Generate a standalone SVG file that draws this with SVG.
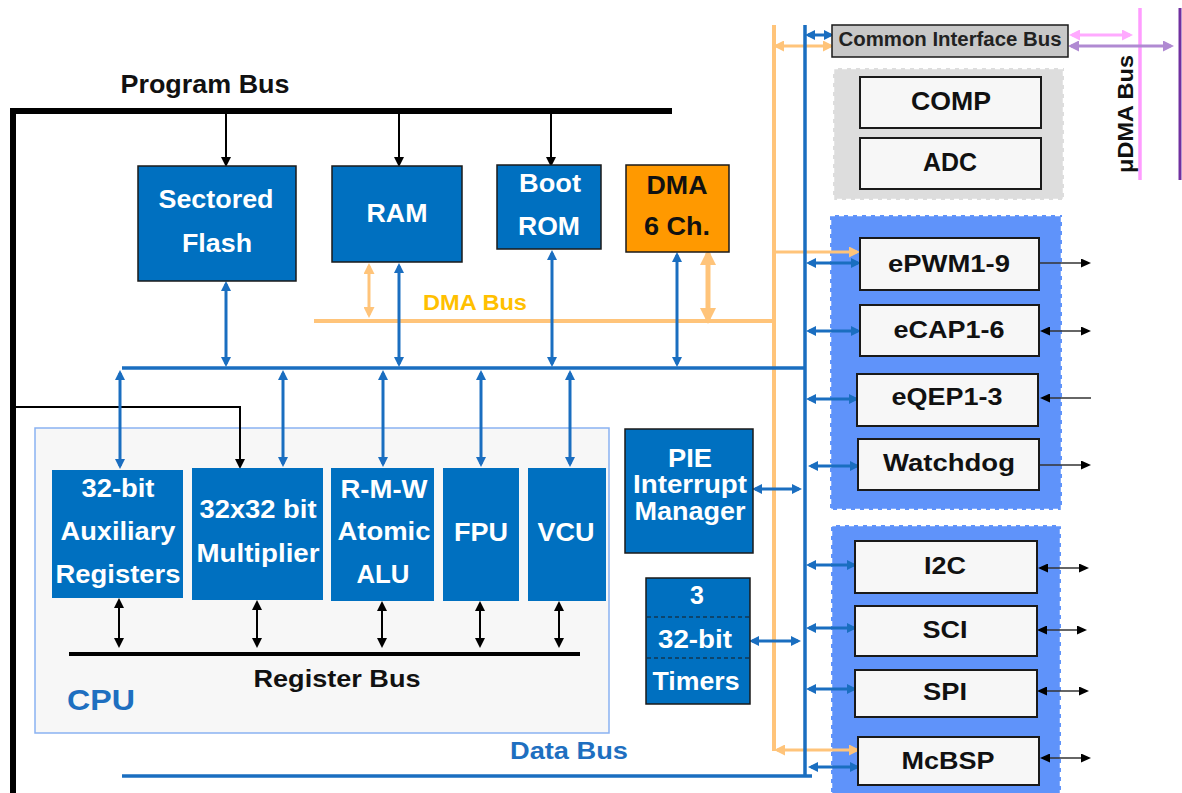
<svg xmlns="http://www.w3.org/2000/svg" width="1182" height="793" viewBox="0 0 1182 793">
  <defs>
    <style>
      text { font-family: "Liberation Sans", Arial, sans-serif; font-weight: bold; }
      .wt { fill: #ffffff; text-anchor: middle; font-size: 25px; }
      .bt { fill: #111111; text-anchor: middle; font-size: 24px; }
      .blk { fill: #0070C0; stroke: #1a1a1a; stroke-width: 1.5; }
      .per { fill: #F7F7F7; stroke: #1a1a1a; stroke-width: 2; }
      .panel { fill: #5F93FA; stroke: #ffffff; stroke-width: 2.5; stroke-dasharray: 5 4; }
      .bbus { stroke: #1A6EC0; stroke-width: 3.5; fill: none; }
      .blink { stroke: #1A6EC0; stroke-width: 3; fill: none; marker-start: url(#hb); marker-end: url(#hb); }
      .obus { stroke: #FFC47A; stroke-width: 4; fill: none; }
      .olink { stroke: #FFC47A; stroke-width: 3; fill: none; }
      .klink { stroke: #000000; stroke-width: 2; fill: none; }
      .kio { stroke: #333333; stroke-width: 1.5; fill: none; }
    </style>
    <marker id="hb" markerUnits="userSpaceOnUse" markerWidth="10" markerHeight="10" refX="7" refY="5" orient="auto-start-reverse">
      <path d="M0,0 L10,5 L0,10 z" fill="#1A6EC0"/>
    </marker>
    <marker id="hk" markerUnits="userSpaceOnUse" markerWidth="10" markerHeight="10" refX="7" refY="5" orient="auto-start-reverse">
      <path d="M0,0 L10,5 L0,10 z" fill="#000000"/>
    </marker>
    <marker id="hks" markerUnits="userSpaceOnUse" markerWidth="10" markerHeight="9" refX="8" refY="4.5" orient="auto-start-reverse">
      <path d="M0,0 L10,4.5 L0,9 z" fill="#000000"/>
    </marker>
    <marker id="ho" markerUnits="userSpaceOnUse" markerWidth="11" markerHeight="11" refX="8" refY="5.5" orient="auto-start-reverse">
      <path d="M0,0 L11,5.5 L0,11 z" fill="#FFC47A"/>
    </marker>
    <marker id="hoB" markerUnits="userSpaceOnUse" markerWidth="16" markerHeight="16" refX="12" refY="8" orient="auto-start-reverse">
      <path d="M0,0 L16,8 L0,16 z" fill="#FFC47A"/>
    </marker>
    <marker id="hp" markerUnits="userSpaceOnUse" markerWidth="11" markerHeight="11" refX="8" refY="5.5" orient="auto-start-reverse">
      <path d="M0,0 L11,5.5 L0,11 z" fill="#FFAAFF"/>
    </marker>
    <marker id="hu" markerUnits="userSpaceOnUse" markerWidth="11" markerHeight="11" refX="8" refY="5.5" orient="auto-start-reverse">
      <path d="M0,0 L11,5.5 L0,11 z" fill="#B08AD2"/>
    </marker>
  </defs>

  <rect x="0" y="0" width="1182" height="793" fill="#ffffff"/>

  <!-- background panels -->
  <g id="cpu">
    <rect x="35" y="428" width="574" height="305" fill="#F7F7F7" stroke="#8AB2F2" stroke-width="1.5"/>
    <text x="67" y="710" style="font-size:30px;fill:#1E6FC0" textLength="68" lengthAdjust="spacingAndGlyphs">CPU</text>
  </g>
  <g id="analog-panel">
    <rect x="833" y="68" width="231" height="132" fill="#DDDDDD" stroke="#ffffff" stroke-width="2.5" stroke-dasharray="5 4"/>
  </g>
  <g id="control-panel">
    <rect class="panel" x="830" y="215" width="232" height="295"/>
  </g>
  <g id="comm-panel">
    <rect class="panel" x="831" y="525" width="230" height="275"/>
  </g>

  <!-- buses and connectors -->
  <g id="connectors">
    <!-- program bus -->
    <path d="M13,793 L13,111 L672,111" stroke="#000" stroke-width="6" fill="none"/>
    <path d="M13,407 L240,407 L240,466" class="klink" stroke-width="2.5" marker-end="url(#hk)"/>
    <line class="klink" x1="226" y1="111" x2="226" y2="164" marker-end="url(#hk)"/>
    <line class="klink" x1="399" y1="111" x2="399" y2="164" marker-end="url(#hk)"/>
    <line class="klink" x1="551" y1="111" x2="551" y2="164" marker-end="url(#hk)"/>

    <!-- DMA bus -->
    <line class="obus" x1="314" y1="321" x2="774" y2="321"/>
    <line class="obus" x1="774" y1="25" x2="774" y2="751"/>
    <line class="olink" x1="369" y1="266" x2="369" y2="315" marker-start="url(#ho)" marker-end="url(#ho)"/>
    <line stroke="#FFC47A" stroke-width="5" x1="708" y1="253" x2="708" y2="320" marker-start="url(#hoB)" marker-end="url(#hoB)"/>
    <line class="olink" x1="776" y1="46" x2="831" y2="46" marker-start="url(#ho)" marker-end="url(#ho)"/>
    <line class="olink" x1="774" y1="252" x2="857" y2="252" marker-end="url(#ho)"/>
    <line class="olink" x1="777" y1="750" x2="857" y2="750" marker-start="url(#ho)" marker-end="url(#ho)"/>

    <!-- data bus -->
    <line class="bbus" x1="122" y1="368" x2="805" y2="368"/>
    <line class="bbus" x1="805" y1="25" x2="805" y2="776"/>
    <line class="bbus" x1="122" y1="776" x2="812" y2="776"/>
    <line class="blink" x1="226" y1="284" x2="226" y2="364"/>
    <line class="blink" x1="399" y1="266" x2="399" y2="364"/>
    <line class="blink" x1="552" y1="253" x2="552" y2="364"/>
    <line class="blink" x1="677" y1="255" x2="677" y2="364"/>
    <line class="blink" x1="120" y1="373" x2="120" y2="466"/>
    <line class="blink" x1="283" y1="373" x2="283" y2="464"/>
    <line class="blink" x1="383" y1="373" x2="383" y2="464"/>
    <line class="blink" x1="481" y1="373" x2="481" y2="464"/>
    <line class="blink" x1="570" y1="373" x2="570" y2="464"/>
    <line class="blink" x1="808" y1="35" x2="831" y2="35"/>
    <line class="blink" x1="755" y1="489" x2="799" y2="489"/>
    <line class="blink" x1="752" y1="641" x2="798" y2="641"/>
    <line class="blink" x1="809" y1="263" x2="858" y2="263"/>
    <line class="blink" x1="809" y1="331" x2="858" y2="331"/>
    <line class="blink" x1="809" y1="399" x2="856" y2="399"/>
    <line class="blink" x1="811" y1="466" x2="857" y2="466"/>
    <line class="blink" x1="809" y1="565" x2="854" y2="565"/>
    <line class="blink" x1="809" y1="628" x2="854" y2="628"/>
    <line class="blink" x1="809" y1="689" x2="854" y2="689"/>
    <line class="blink" x1="811" y1="767" x2="857" y2="767"/>

    <!-- register bus -->
    <line x1="69" y1="654" x2="580" y2="654" stroke="#000" stroke-width="4"/>
    <line class="klink" x1="119" y1="601" x2="119" y2="645" marker-start="url(#hk)" marker-end="url(#hk)"/>
    <line class="klink" x1="257" y1="603" x2="257" y2="645" marker-start="url(#hk)" marker-end="url(#hk)"/>
    <line class="klink" x1="382" y1="604" x2="382" y2="645" marker-start="url(#hk)" marker-end="url(#hk)"/>
    <line class="klink" x1="480" y1="604" x2="480" y2="645" marker-start="url(#hk)" marker-end="url(#hk)"/>
    <line class="klink" x1="559" y1="604" x2="559" y2="645" marker-start="url(#hk)" marker-end="url(#hk)"/>

    <!-- uDMA bus -->
    <line x1="1140" y1="8" x2="1140" y2="180" stroke="#FF9CFF" stroke-width="3.5"/>
    <line x1="1180" y1="8" x2="1180" y2="180" stroke="#7030A0" stroke-width="3"/>
    <line x1="1072" y1="35" x2="1130" y2="35" stroke="#FFAAFF" stroke-width="3" marker-start="url(#hp)" marker-end="url(#hp)"/>
    <line x1="1071" y1="46" x2="1171" y2="46" stroke="#B08AD2" stroke-width="3" marker-start="url(#hu)" marker-end="url(#hu)"/>

    <!-- external pins -->
    <line class="kio" x1="1040" y1="263" x2="1089" y2="263" marker-end="url(#hks)"/>
    <line class="kio" x1="1042" y1="331" x2="1089" y2="331" marker-start="url(#hks)" marker-end="url(#hks)"/>
    <line class="kio" x1="1042" y1="398" x2="1091" y2="398" marker-start="url(#hks)"/>
    <line class="kio" x1="1040" y1="465" x2="1089" y2="465" marker-end="url(#hks)"/>
    <line class="kio" x1="1040" y1="568" x2="1087" y2="568" marker-start="url(#hks)" marker-end="url(#hks)"/>
    <line class="kio" x1="1039" y1="630" x2="1085" y2="630" marker-start="url(#hks)" marker-end="url(#hks)"/>
    <line class="kio" x1="1039" y1="691" x2="1087" y2="691" marker-start="url(#hks)" marker-end="url(#hks)"/>
    <line class="kio" x1="1042" y1="758" x2="1089" y2="758" marker-start="url(#hks)" marker-end="url(#hks)"/>
  </g>

  <!-- bus labels -->
  <g id="labels">
    <text x="205" y="93" style="font-size:25px;fill:#111;text-anchor:middle" textLength="169" lengthAdjust="spacingAndGlyphs">Program Bus</text>
    <text x="423" y="310" style="font-size:22px;fill:#FFC000" textLength="104" lengthAdjust="spacingAndGlyphs">DMA Bus</text>
    <text x="337" y="687" style="font-size:24px;fill:#111;text-anchor:middle" textLength="167" lengthAdjust="spacingAndGlyphs">Register Bus</text>
    <text x="510" y="759" style="font-size:24px;fill:#1E6FC0" textLength="118" lengthAdjust="spacingAndGlyphs">Data Bus</text>
    <text transform="translate(1133,114) rotate(-90)" x="0" y="0" style="font-size:22px;fill:#111;text-anchor:middle" textLength="118" lengthAdjust="spacingAndGlyphs">μDMA Bus</text>
  </g>

  <!-- memories -->
  <g id="flash">
    <rect class="blk" x="138" y="166" width="158" height="115"/>
    <text class="wt" x="216" y="208" textLength="115" lengthAdjust="spacingAndGlyphs">Sectored</text>
    <text class="wt" x="217" y="252" textLength="70" lengthAdjust="spacingAndGlyphs">Flash</text>
  </g>
  <g id="ram">
    <rect class="blk" x="332" y="166" width="130" height="96"/>
    <text class="wt" x="397" y="222" textLength="61" lengthAdjust="spacingAndGlyphs">RAM</text>
  </g>
  <g id="boot-rom">
    <rect class="blk" x="497" y="165" width="104" height="84"/>
    <text class="wt" x="550" y="192" textLength="62" lengthAdjust="spacingAndGlyphs">Boot</text>
    <text class="wt" x="549" y="235" textLength="62" lengthAdjust="spacingAndGlyphs">ROM</text>
  </g>
  <g id="dma">
    <rect x="626" y="165" width="103" height="87" fill="#FF9900" stroke="#1a1a1a" stroke-width="1.5"/>
    <text class="bt" x="677" y="194" style="font-size:25px" textLength="61" lengthAdjust="spacingAndGlyphs">DMA</text>
    <text class="bt" x="677" y="235" style="font-size:25px" textLength="66" lengthAdjust="spacingAndGlyphs">6 Ch.</text>
  </g>

  <!-- CPU units -->
  <g id="aux-registers">
    <rect x="52" y="470" width="131" height="128" fill="#0070C0"/>
    <text class="wt" x="118" y="497" textLength="73" lengthAdjust="spacingAndGlyphs">32-bit</text>
    <text class="wt" x="118" y="540" textLength="115" lengthAdjust="spacingAndGlyphs">Auxiliary</text>
    <text class="wt" x="118" y="583" textLength="125" lengthAdjust="spacingAndGlyphs">Registers</text>
  </g>
  <g id="multiplier">
    <rect x="192" y="468" width="131" height="132" fill="#0070C0"/>
    <text class="wt" x="258" y="518" textLength="117" lengthAdjust="spacingAndGlyphs">32x32 bit</text>
    <text class="wt" x="258" y="562" textLength="123" lengthAdjust="spacingAndGlyphs">Multiplier</text>
  </g>
  <g id="alu">
    <rect x="331" y="468" width="103" height="133" fill="#0070C0"/>
    <text class="wt" x="384" y="498" textLength="87" lengthAdjust="spacingAndGlyphs">R-M-W</text>
    <text class="wt" x="384" y="540" textLength="93" lengthAdjust="spacingAndGlyphs">Atomic</text>
    <text class="wt" x="383" y="583" textLength="53" lengthAdjust="spacingAndGlyphs">ALU</text>
  </g>
  <g id="fpu">
    <rect x="443" y="468" width="76" height="133" fill="#0070C0"/>
    <text class="wt" x="481" y="541" textLength="54" lengthAdjust="spacingAndGlyphs">FPU</text>
  </g>
  <g id="vcu">
    <rect x="528" y="468" width="78" height="133" fill="#0070C0"/>
    <text class="wt" x="566" y="541" textLength="57" lengthAdjust="spacingAndGlyphs">VCU</text>
  </g>

  <!-- system blocks -->
  <g id="pie">
    <rect class="blk" x="625" y="429" width="128" height="124"/>
    <text class="wt" x="690" y="467" textLength="44" lengthAdjust="spacingAndGlyphs">PIE</text>
    <text class="wt" x="690" y="493" textLength="114" lengthAdjust="spacingAndGlyphs">Interrupt</text>
    <text class="wt" x="690" y="520" textLength="111" lengthAdjust="spacingAndGlyphs">Manager</text>
  </g>
  <g id="timers">
    <rect class="blk" x="646" y="578" width="104" height="126"/>
    <line x1="647" y1="617" x2="749" y2="617" stroke="#1a1a1a" stroke-width="1" stroke-dasharray="4 3"/>
    <line x1="647" y1="658" x2="749" y2="658" stroke="#1a1a1a" stroke-width="1" stroke-dasharray="4 3"/>
    <text class="wt" x="697" y="604">3</text>
    <text class="wt" x="695" y="648" textLength="74" lengthAdjust="spacingAndGlyphs">32-bit</text>
    <text class="wt" x="696" y="690" textLength="87" lengthAdjust="spacingAndGlyphs">Timers</text>
  </g>

  <!-- peripheral interface -->
  <g id="common-interface-bus">
    <rect x="832" y="25" width="236" height="32" fill="#C8C8C8" stroke="#1a1a1a" stroke-width="1.5"/>
    <text x="950" y="46" style="font-size:20px;fill:#222;text-anchor:middle" textLength="223" lengthAdjust="spacingAndGlyphs">Common Interface Bus</text>
  </g>
  <g id="comp">
    <rect class="per" x="860" y="77" width="181" height="51"/>
    <text class="bt" x="951" y="110" style="font-size:26px" textLength="80" lengthAdjust="spacingAndGlyphs">COMP</text>
  </g>
  <g id="adc">
    <rect class="per" x="860" y="138" width="181" height="51"/>
    <text class="bt" x="950" y="171" style="font-size:26px" textLength="54" lengthAdjust="spacingAndGlyphs">ADC</text>
  </g>
  <g id="epwm">
    <rect class="per" x="860" y="238" width="179" height="52"/>
    <text class="bt" x="949" y="272" textLength="122" lengthAdjust="spacingAndGlyphs">ePWM1-9</text>
  </g>
  <g id="ecap">
    <rect class="per" x="860" y="305" width="179" height="51"/>
    <text class="bt" x="949" y="338" textLength="111" lengthAdjust="spacingAndGlyphs">eCAP1-6</text>
  </g>
  <g id="eqep">
    <rect class="per" x="857" y="374" width="181" height="52"/>
    <text class="bt" x="947" y="405" textLength="111" lengthAdjust="spacingAndGlyphs">eQEP1-3</text>
  </g>
  <g id="watchdog">
    <rect class="per" x="858" y="439" width="181" height="51"/>
    <text class="bt" x="949" y="471" textLength="132" lengthAdjust="spacingAndGlyphs">Watchdog</text>
  </g>
  <g id="i2c">
    <rect class="per" x="855" y="541" width="182" height="52"/>
    <text class="bt" x="945" y="574" textLength="42" lengthAdjust="spacingAndGlyphs">I2C</text>
  </g>
  <g id="sci">
    <rect class="per" x="855" y="606" width="182" height="50"/>
    <text class="bt" x="945" y="638" textLength="45" lengthAdjust="spacingAndGlyphs">SCI</text>
  </g>
  <g id="spi">
    <rect class="per" x="855" y="670" width="182" height="47"/>
    <text class="bt" x="945" y="700" textLength="44" lengthAdjust="spacingAndGlyphs">SPI</text>
  </g>
  <g id="mcbsp">
    <rect class="per" x="858" y="737" width="181" height="48"/>
    <text class="bt" x="948" y="769" textLength="93" lengthAdjust="spacingAndGlyphs">McBSP</text>
  </g>
</svg>
